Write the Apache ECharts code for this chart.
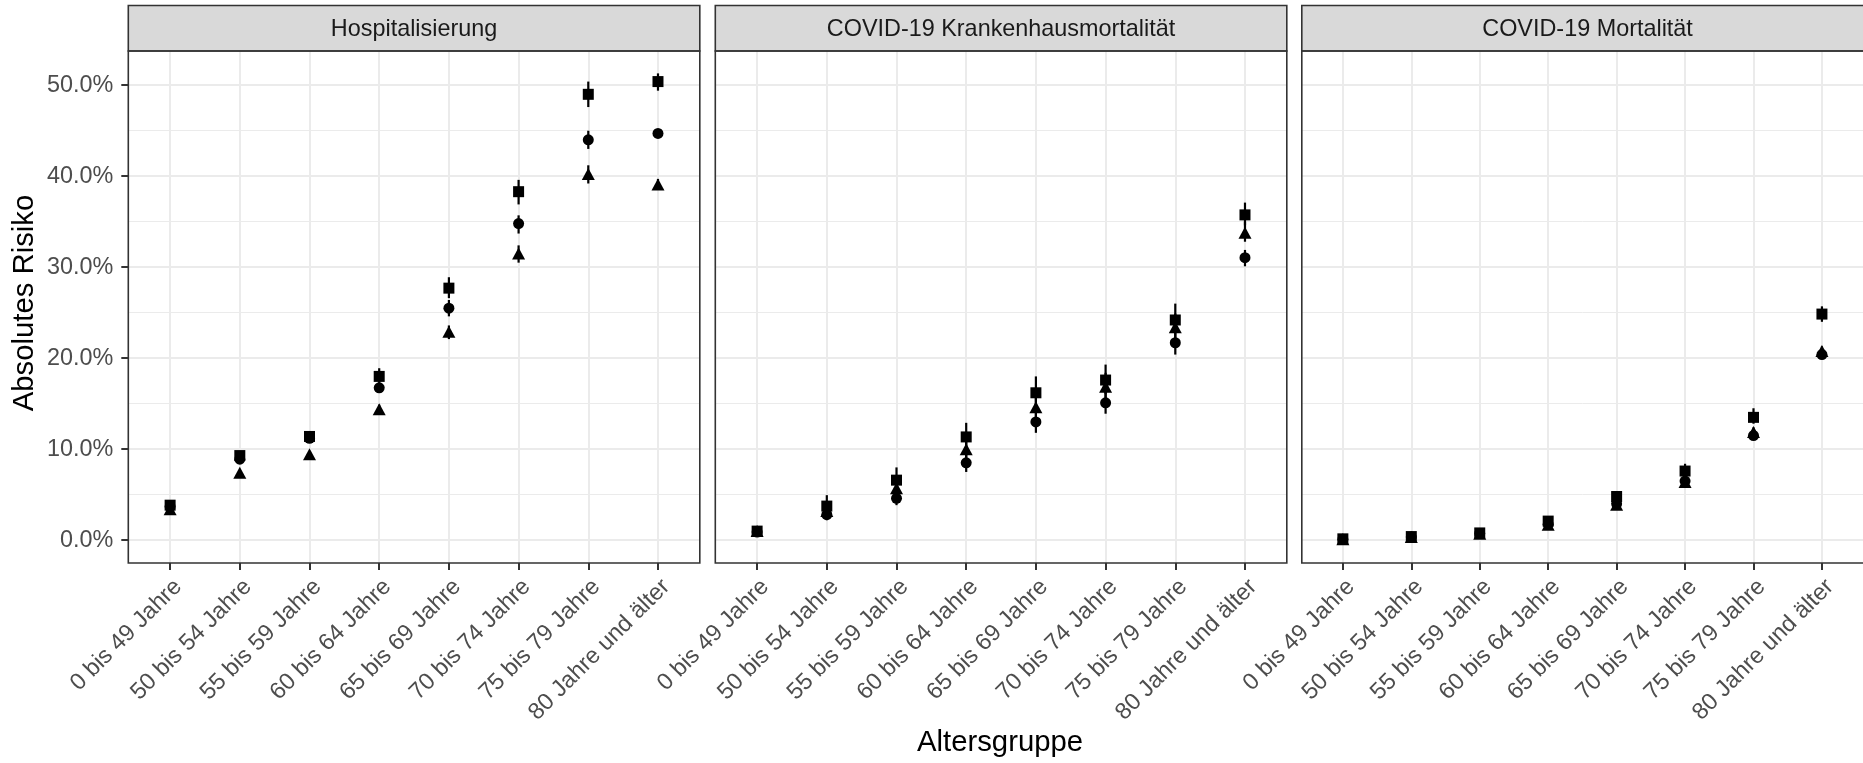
<!DOCTYPE html>
<html>
<head>
<meta charset="utf-8">
<script src="https://cdn.jsdelivr.net/npm/echarts@6/dist/echarts.min.js"></script>
<style>
html,body{margin:0;padding:0;background:#fff;}
#c{width:1863px;height:763px;}
</style>
</head>
<body>
<div id="c"></div>
<script>
// ---------- data ----------
const categories = ['0 bis 49 Jahre','50 bis 54 Jahre','55 bis 59 Jahre','60 bis 64 Jahre','65 bis 69 Jahre','70 bis 74 Jahre','75 bis 79 Jahre','80 Jahre und älter'];
const panelTitles = ['Hospitalisierung','COVID-19 Krankenhausmortalität','COVID-19 Mortalität'];
const yTicks = [0, 10, 20, 30, 40, 50];
const yMinorTicks = [5, 15, 25, 35, 45];
const xTitle = 'Altersgruppe';
const yTitle = 'Absolutes Risiko';

// Hospitalisierung (percent)
const hospSquare     = [3.85, 9.3, 11.4, 18.0, 27.7, 38.3, 49.0, 50.4];
const hospSquareLo   = [3.5, 8.9, 11.0, 17.2, 26.6, 36.9, 47.6, 49.4];
const hospSquareHi   = [4.2, 9.7, 11.8, 18.9, 28.9, 39.6, 50.4, 51.3];
const hospCircle     = [3.7, 8.9, 11.2, 16.75, 25.5, 34.8, 44.0, 44.7];
const hospCircleLo   = [3.4, 8.6, 10.9, 16.2, 24.6, 33.7, 43.0, 44.3];
const hospCircleHi   = [4.0, 9.2, 11.5, 17.3, 26.4, 35.7, 45.0, 45.1];
const hospTriangle   = [3.4, 7.4, 9.45, 14.4, 22.9, 31.5, 40.25, 39.1];
const hospTriangleLo = [3.1, 7.1, 9.2, 14.0, 22.1, 30.5, 39.2, 38.5];
const hospTriangleHi = [3.7, 7.7, 9.7, 14.9, 23.6, 32.4, 41.2, 39.7];

// COVID-19 Krankenhausmortalität (percent)
const khSquare     = [1.0, 3.75, 6.6, 11.35, 16.2, 17.6, 24.2, 35.75];
const khSquareLo   = [0.6, 2.6, 5.2, 9.9, 14.6, 16.1, 22.8, 34.6];
const khSquareHi   = [1.5, 4.95, 8.0, 12.9, 18.0, 19.3, 26.0, 37.1];
const khCircle     = [0.9, 2.8, 4.6, 8.5, 13.0, 15.1, 21.7, 31.05];
const khCircleLo   = [0.5, 2.2, 3.85, 7.5, 11.8, 13.9, 20.4, 30.1];
const khCircleHi   = [1.3, 3.4, 5.4, 9.5, 14.3, 16.4, 22.9, 31.9];
const khTriangle   = [1.0, 3.2, 5.7, 10.0, 14.6, 16.85, 23.4, 33.8];
const khTriangleLo = [0.6, 2.4, 4.8, 8.9, 13.2, 15.3, 21.9, 32.8];
const khTriangleHi = [1.4, 4.0, 6.6, 11.2, 16.0, 18.4, 24.9, 35.0];

// COVID-19 Mortalität (percent)
const mortSquare     = [0.15, 0.4, 0.8, 2.1, 4.8, 7.6, 13.5, 24.85];
const mortSquareLo   = [0.1, 0.3, 0.65, 1.85, 4.45, 7.0, 12.8, 24.0];
const mortSquareHi   = [0.2, 0.5, 0.95, 2.35, 5.15, 8.4, 14.5, 25.7];
const mortCircle     = [0.1, 0.35, 0.75, 1.75, 4.0, 6.5, 11.5, 20.4];
const mortCircleLo   = [0.05, 0.3, 0.65, 1.55, 3.75, 6.1, 11.0, 19.9];
const mortCircleHi   = [0.15, 0.4, 0.85, 1.95, 4.25, 6.9, 12.0, 20.9];
const mortTriangle   = [0.1, 0.35, 0.7, 1.7, 3.9, 6.4, 11.9, 20.8];
const mortTriangleLo = [0.05, 0.3, 0.6, 1.5, 3.65, 6.0, 11.4, 20.3];
const mortTriangleHi = [0.15, 0.4, 0.8, 1.9, 4.15, 6.8, 12.4, 21.3];

// ---------- layout ----------
const FONT = 'Liberation Sans, Arial, sans-serif';
const LEFTS = [128.3, 715.3, 1301.8];
const PW = 571.5, PTOP = 51, PH = 512;
const STRIP_TOP = 5.5;
const Y_MIN = -2.505, Y_MAX = 53.76;
const X_MIN = -0.6, X_MAX = 7.6;

const panelData = [
  [
    {sym:'circle', est:hospCircle, lo:hospCircleLo, hi:hospCircleHi},
    {sym:'triangle', est:hospTriangle, lo:hospTriangleLo, hi:hospTriangleHi},
    {sym:'rect', est:hospSquare, lo:hospSquareLo, hi:hospSquareHi}
  ],
  [
    {sym:'circle', est:khCircle, lo:khCircleLo, hi:khCircleHi},
    {sym:'triangle', est:khTriangle, lo:khTriangleLo, hi:khTriangleHi},
    {sym:'rect', est:khSquare, lo:khSquareLo, hi:khSquareHi}
  ],
  [
    {sym:'circle', est:mortCircle, lo:mortCircleLo, hi:mortCircleHi},
    {sym:'triangle', est:mortTriangle, lo:mortTriangleLo, hi:mortTriangleHi},
    {sym:'rect', est:mortSquare, lo:mortSquareLo, hi:mortSquareHi}
  ]
];
const symSize = {circle: 11, triangle: [13, 12], rect: 11};

const catIdx = categories.map((c, i) => i);
const grids = [], xAxes = [], yAxes = [], series = [], graphics = [];

LEFTS.forEach((left, p) => {
  grids.push({left: left, top: PTOP, width: PW, height: PH, containLabel: false});
  xAxes.push({
    type: 'value', gridIndex: p, min: X_MIN, max: X_MAX, position: 'bottom',
    axisLine: {show: false, onZero: false},
    axisTick: {show: true, customValues: catIdx, length: 7, lineStyle: {color: '#333333', width: 2}},
    axisLabel: {
      show: true, customValues: catIdx, rotate: 45, margin: 12,
      align: 'right', verticalAlign: 'top',
      color: '#4D4D4D', fontSize: 23.4, fontFamily: FONT,
      formatter: v => categories[Math.round(v)]
    },
    splitLine: {show: true, lineStyle: {color: '#EBEBEB', width: 2}}
  });
  // major y axis
  yAxes.push({
    type: 'value', gridIndex: p, min: Y_MIN, max: Y_MAX, position: 'left',
    axisLine: {show: false, onZero: false},
    axisTick: {show: p === 0, customValues: yTicks, length: 7, lineStyle: {color: '#333333', width: 2}},
    axisLabel: {
      show: p === 0, customValues: yTicks, margin: 15,
      color: '#4D4D4D', fontSize: 23.4, fontFamily: FONT,
      formatter: v => v.toFixed(1) + '%'
    },
    splitLine: {show: true, lineStyle: {color: '#EBEBEB', width: 2}}
  });
  // minor y axis (grid only)
  yAxes.push({
    type: 'value', gridIndex: p, min: Y_MIN, max: Y_MAX, position: 'left',
    axisLine: {show: false, onZero: false},
    axisTick: {show: false, customValues: yMinorTicks},
    axisLabel: {show: false, customValues: yMinorTicks},
    splitLine: {show: true, lineStyle: {color: '#EBEBEB', width: 1}}
  });

  panelData[p].forEach(s => {
    series.push({
      type: 'custom', xAxisIndex: p, yAxisIndex: 2 * p, z: 3,
      silent: true,
      data: s.est.map((v, i) => [i, s.lo[i], s.hi[i]]),
      encode: {x: 0, y: [1, 2]},
      renderItem: (params, api) => {
        const x = api.value(0);
        const a = api.coord([x, api.value(1)]);
        const b = api.coord([x, api.value(2)]);
        return {type: 'line', shape: {x1: a[0], y1: a[1], x2: b[0], y2: b[1]},
                style: {stroke: '#000000', lineWidth: 2.2}};
      }
    });
  });
  panelData[p].forEach(s => {
    series.push({
      type: 'scatter', xAxisIndex: p, yAxisIndex: 2 * p, z: 4,
      symbol: s.sym, symbolSize: symSize[s.sym],
      itemStyle: {color: '#000000', opacity: 1},
      silent: true,
      data: s.est.map((v, i) => [i, v])
    });
  });

  // strip
  graphics.push({
    type: 'rect', z: 100,
    shape: {x: left, y: STRIP_TOP, width: PW, height: PTOP - STRIP_TOP},
    style: {fill: '#D9D9D9', stroke: '#333333', lineWidth: 1.6}
  });
  graphics.push({
    type: 'text', z: 101,
    x: left + PW / 2, y: 29.5,
    style: {text: panelTitles[p], fill: '#1A1A1A', font: '23.4px ' + FONT,
            textAlign: 'center', textVerticalAlign: 'middle'}
  });
  // panel border
  graphics.push({
    type: 'rect', z: 100,
    shape: {x: left, y: PTOP, width: PW, height: PH},
    style: {fill: null, stroke: '#333333', lineWidth: 1.6}
  });
});

graphics.push({
  type: 'text', z: 101, x: 1000, y: 743,
  style: {text: xTitle, fill: '#000000', font: '29.3px ' + FONT, textAlign: 'center', textVerticalAlign: 'middle'}
});
graphics.push({
  type: 'text', z: 101, x: 25, y: 303, rotation: Math.PI / 2,
  style: {text: yTitle, fill: '#000000', font: '29.3px ' + FONT, textAlign: 'center', textVerticalAlign: 'middle'}
});

const chart = echarts.init(document.getElementById('c'), null, {renderer: 'canvas'});
chart.setOption({
  animation: false,
  backgroundColor: '#FFFFFF',
  grid: grids,
  xAxis: xAxes,
  yAxis: yAxes,
  series: series,
  graphic: {elements: graphics}
});
</script>
</body>
</html>
